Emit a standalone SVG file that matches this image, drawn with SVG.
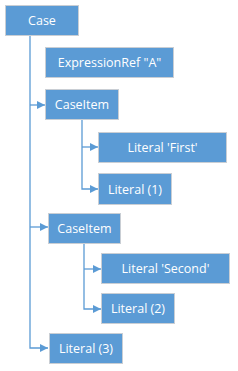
<svg xmlns="http://www.w3.org/2000/svg" width="238" height="371" viewBox="0 0 238 371">
<defs>
<style>
.n rect{fill:#5B9BD5;stroke:#C9CED4;stroke-width:1}
.n text{fill:#fff;font-family:"Open Sans","Noto Sans",sans-serif;font-size:12.5px;text-anchor:middle;dominant-baseline:central}
.c path{fill:none;stroke:#5B9BD5;stroke-width:1.3}
</style>
<marker id="ah" markerWidth="8" markerHeight="8" refX="8" refY="4" orient="auto" markerUnits="userSpaceOnUse">
<path d="M0,0 L8,4 L0,8 Z" fill="#5B9BD5"/>
</marker>
</defs>
<rect width="238" height="371" fill="#fff"/>
<g class="c">
<path d="M30,35 V348 H48" marker-end="url(#ah)"/>
<path d="M30,105 H45" marker-end="url(#ah)"/>
<path d="M30,227 H48" marker-end="url(#ah)"/>
<path d="M82,120 V189 H98" marker-end="url(#ah)"/>
<path d="M82,147 H98" marker-end="url(#ah)"/>
<path d="M84,244 V309 H101" marker-end="url(#ah)"/>
<path d="M84,269 H101" marker-end="url(#ah)"/>
</g>
<g id="case" class="n"><rect x="5.5" y="5.5" width="73" height="30"/><text x="42" y="20.5">Case</text></g>
<g id="exprref" class="n"><rect x="45.5" y="47.5" width="128" height="30"/><text x="109.5" y="62.5">ExpressionRef "A"</text></g>
<g id="caseitem1" class="n"><rect x="45.5" y="89.5" width="73" height="30"/><text x="82" y="104.5">CaseItem</text></g>
<g id="litfirst" class="n"><rect x="98.5" y="132.5" width="128" height="30"/><text x="162.5" y="147.5">Literal 'First'</text></g>
<g id="lit1" class="n"><rect x="98.5" y="173.5" width="73" height="31"/><text x="135" y="189">Literal (1)</text></g>
<g id="caseitem2" class="n"><rect x="48.5" y="213.5" width="72" height="30"/><text x="84.5" y="228.5">CaseItem</text></g>
<g id="litsecond" class="n"><rect x="101.5" y="253.5" width="128" height="30"/><text x="165.5" y="268.5">Literal 'Second'</text></g>
<g id="lit2" class="n"><rect x="101.5" y="293.5" width="73" height="30"/><text x="138" y="308.5">Literal (2)</text></g>
<g id="lit3" class="n"><rect x="49.5" y="333.5" width="73" height="30"/><text x="86" y="348.5">Literal (3)</text></g>
</svg>
